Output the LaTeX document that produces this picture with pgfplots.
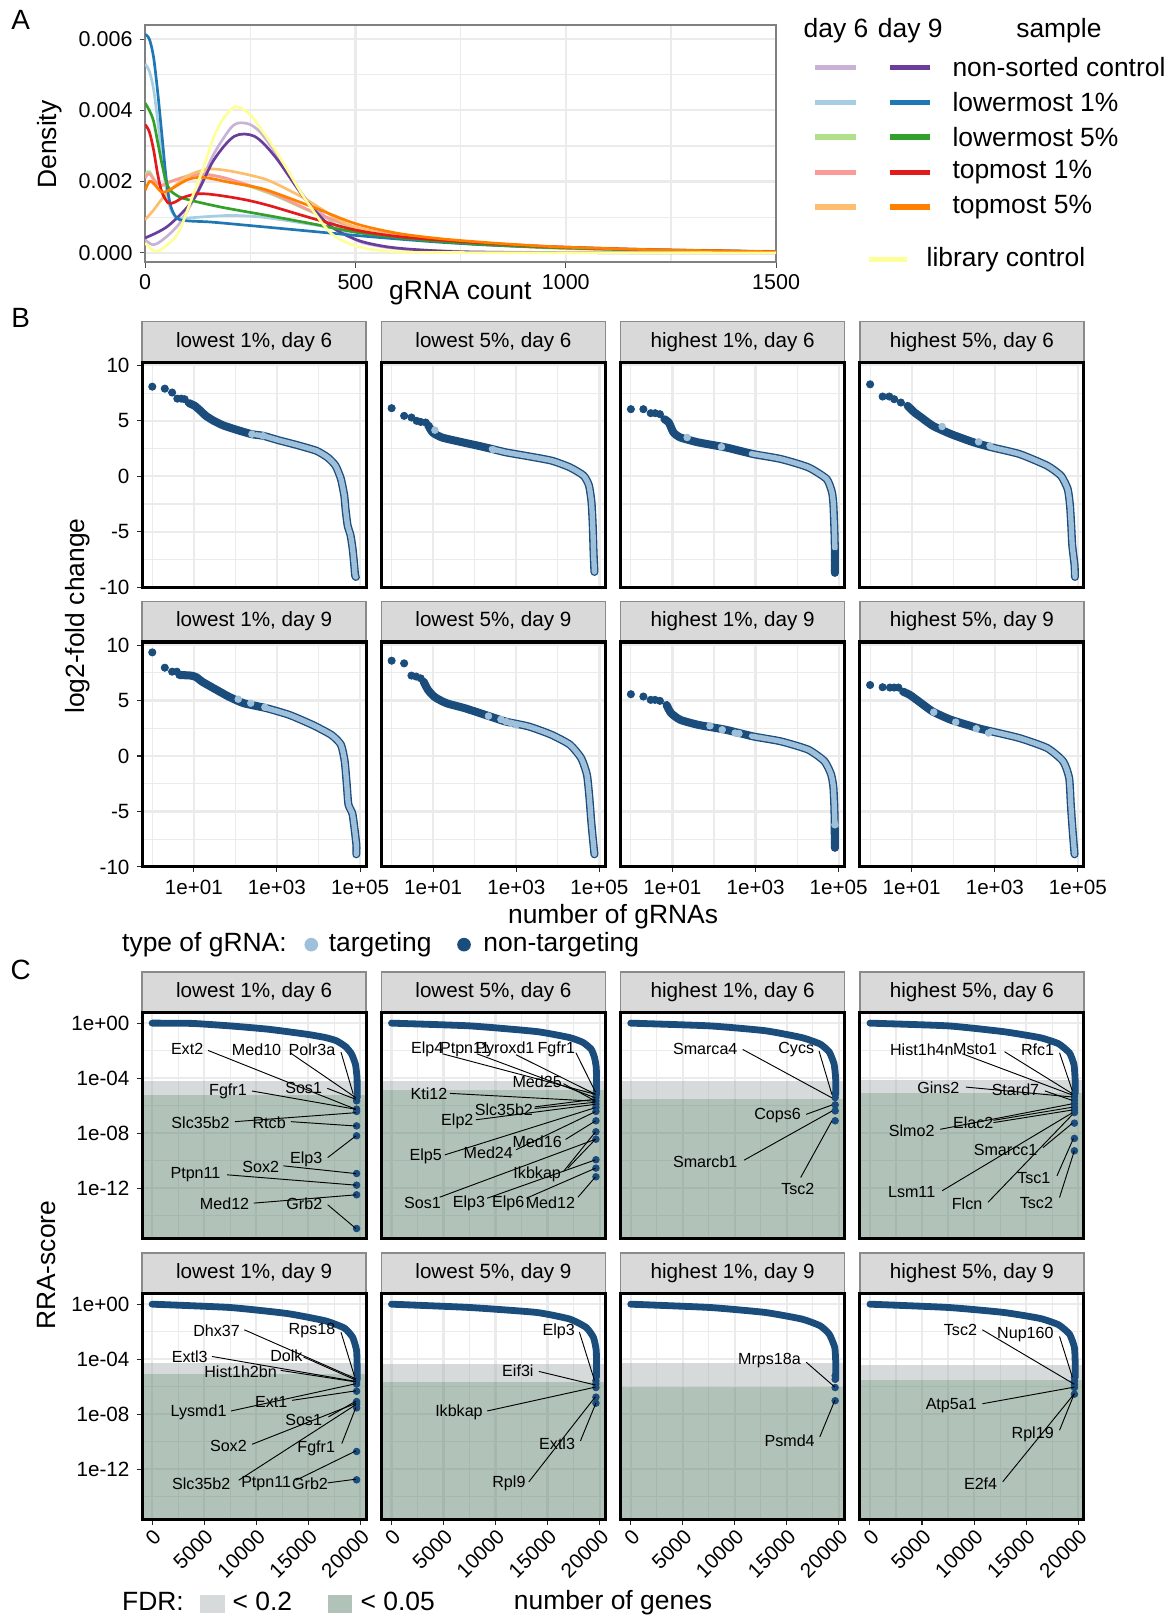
\documentclass[border=0pt]{standalone}
\usepackage{fontspec}
\setmainfont{Liberation Sans}
\usepackage{pgfplots}
\pgfplotsset{compat=1.18}
\pgfkeys{/pgf/number format/assume math mode=true}
\definecolor{dkb}{HTML}{1A4C7C}
\definecolor{ltb}{HTML}{9FC0DA}
\definecolor{gridc}{HTML}{EBEBEB}
\definecolor{stripc}{HTML}{D9D9D9}
\definecolor{stripline}{HTML}{8A8A8A}
\definecolor{fdrgray}{HTML}{ADB5B7}
\definecolor{fdrgreen}{HTML}{638571}
\definecolor{fdrgraysolid}{HTML}{D6DADB}
\definecolor{fdrgreensolid}{HTML}{B1C2B8}
\definecolor{cLP}{HTML}{CAB2D6}\definecolor{cDP}{HTML}{6A3D9A}
\definecolor{cLB}{HTML}{A6CEE3}\definecolor{cDB}{HTML}{1F78B4}
\definecolor{cLG}{HTML}{B2DF8A}\definecolor{cDG}{HTML}{33A02C}
\definecolor{cLR}{HTML}{FB9A99}\definecolor{cDR}{HTML}{E31A1C}
\definecolor{cLO}{HTML}{FDBF6F}\definecolor{cDO}{HTML}{FF7F00}
\definecolor{cY}{HTML}{FFFF99}
\newcommand\labf{\fontsize{7.8}{9}\selectfont}
\newcommand\bigf{\fontsize{12.8}{15}\selectfont}
\newcommand\tck{\fontsize{10}{12}\selectfont}
\newcommand\GL[3]{\node[font=\labf, inner sep=0pt] at (#1,#2) {#3};}
\newcommand\LL[4]{\draw[line width=0.45pt] (#1,#2) -- (#3,#4);}
\pgfplotsset{
 myfacet/.style={scale only axis, width=108.5pt, anchor=north west, clip mode=individual,
   axis line style={line width=1.5pt, black}, tick align=outside, major tick length=2.6pt,
   minor tick length=0pt, tick style={line width=0.5pt, color=black!85}, tick pos=left,
   grid=both, major grid style={color=gridc, line width=1.1pt}, minor grid style={color=gridc, line width=0.55pt},
   tick label style={font=\tck}},
 myBax/.style={myfacet, height=109pt, xmin=0.569, xmax=139600, ymin=-10, ymax=10.28,
   xtick={10,1000,100000}, xticklabels={1e+01,1e+03,1e+05}, minor xtick={1,100,10000},
   ytick={-10,-5,0,5,10}, minor ytick={-7.5,-2.5,2.5,7.5}},
 myCax/.style={myfacet, height=109.25pt, xmin=-960, xmax=20550, ymin=2.24e-16, ymax=5.56,
   xtick={0,5000,10000,15000,20000}, xticklabels={0,5000,10000,15000,20000}, minor xtick={2500,7500,12500,17500},
   ytick={1,1e-4,1e-8,1e-12}, yticklabels={1e+00,1e-04,1e-08,1e-12}, minor ytick={1e-2,1e-6,1e-10,1e-14},
   xticklabel style={rotate=45, anchor=north east, inner sep=1pt}, scaled x ticks=false},
 noxl/.style={xticklabels={}, xtick style={draw=none}},
 noyl/.style={yticklabels={}, ytick style={draw=none}},
 myBdark/.style={color=dkb, line width=3.9pt, line cap=round, line join=round, smooth, tension=0.35, no marks},
 myBlight/.style={color=ltb, line width=2.6pt, line cap=round, line join=round, smooth, tension=0.35, no marks},
 myDots/.style={only marks, mark=*, mark size=1.75pt, mark options={draw=dkb, fill=dkb}},
 myLdots/.style={only marks, mark=*, mark size=1.6pt, mark options={draw=ltb, fill=ltb}},
 myCcurve/.style={color=dkb, line width=3.3pt, line cap=round, line join=round, smooth, tension=0.3, no marks},
 myCdots/.style={only marks, mark=*, mark size=1.6pt, mark options={draw=dkb, fill=dkb}},
 myDen/.style={line width=1.3pt, smooth, tension=0.5, no marks},
}
\newcommand\frm{\draw[line width=1.5pt] (rel axis cs:0,0) rectangle (rel axis cs:1,1);}
\begin{document}
\begin{tikzpicture}
\begin{scope}[x=0.5pt,y=-0.5pt]
\path[use as bounding box] (0,0) rectangle (1138,1568);
\foreach \L in {137.7,369.6,601.4,833.2}{
 \foreach \T/\B in {311.5/351, 582.5/622, 941.7/981.4, 1214/1253.7}{
  \draw[fill=stripc, draw=stripline, line width=0.6pt] (\L,\T) rectangle ({\L+217},\B);
 }}
\end{scope}

% ---------------- Panel A ----------------
\begin{axis}[scale only axis, width=305.7pt, height=115pt, at={(70.3pt,-12pt)}, anchor=north west,
  xmin=0, xmax=1500, ymin=-0.00026, ymax=0.0064, scaled y ticks=false, scaled x ticks=false,
  xtick={0,500,1000,1500}, xticklabels={0,500,1000,1500}, minor xtick={250,750,1250},
  ytick={0,0.002,0.004,0.006}, yticklabels={0.000,0.002,0.004,0.006}, minor ytick={0.001,0.003,0.005},
  grid=both, major grid style={color=gridc, line width=1.1pt}, minor grid style={color=gridc, line width=0.55pt},
  axis line style={line width=0.8pt, color=black!50}, tick align=outside, tick pos=left,
  major tick length=2.6pt, minor tick length=0pt, tick style={line width=0.5pt, color=black!70},
  tick label style={font=\fontsize{10.4}{12}\selectfont}]
\addplot[myDen, cLP] coordinates {(0,0.00037)(18,0.00023)(40,0.00035)(80,0.00080)(120,0.00160)(160,0.00270)(200,0.00345)(220,0.00364)(250,0.00360)(280,0.00330)(333,0.00240)(380,0.00155)(430,0.00100)(500,0.00037)(560,0.00018)(623,0.00010)(700,0.00006)(800,0.00003)(1000,0.00001)(1500,0)};
\addplot[myDen, cLB] coordinates {(0,0.0053)(10,0.0051)(20,0.0046)(30,0.0037)(40,0.0027)(50,0.0018)(60,0.00125)(75,0.00100)(100,0.00098)(150,0.00102)(200,0.00105)(250,0.00103)(300,0.00097)(400,0.00079)(500,0.00059)(600,0.00044)(700,0.00034)(800,0.00026)(900,0.00020)(1000,0.00016)(1200,0.00010)(1500,0.00004)};
\addplot[myDen, cLG] coordinates {(0,0.0022)(10,0.00228)(25,0.0020)(40,0.00188)(60,0.0020)(100,0.00216)(130,0.00222)(160,0.00218)(200,0.00205)(300,0.00165)(400,0.00113)(500,0.00070)(600,0.00048)(700,0.00034)(800,0.00025)(900,0.00019)(1000,0.00014)(1200,0.00008)(1500,0.00003)};
\addplot[myDen, cLR] coordinates {(0,0.0021)(10,0.00222)(25,0.00198)(40,0.00190)(60,0.00200)(100,0.00214)(130,0.00220)(160,0.00217)(200,0.00207)(300,0.00168)(400,0.00115)(500,0.00072)(600,0.00049)(700,0.00035)(800,0.00026)(900,0.00019)(1000,0.00014)(1200,0.00008)(1500,0.00003)};
\addplot[myDen, cLO] coordinates {(0,0.00093)(20,0.00120)(50,0.00165)(100,0.00215)(150,0.00235)(200,0.00230)(260,0.00215)(300,0.00200)(380,0.00152)(450,0.00100)(500,0.00072)(600,0.00046)(700,0.00032)(800,0.00023)(900,0.00017)(1000,0.00012)(1200,0.00007)(1500,0.00002)};
\addplot[myDen, cDP] coordinates {(0,0.00042)(54,0.00075)(115,0.00150)(163,0.00260)(212,0.00327)(260,0.00327)(309,0.00270)(381,0.00150)(441,0.00075)(502,0.00037)(560,0.00020)(623,0.00011)(744,0.00003)(900,0.00001)(1500,0)};
\addplot[myDen, cDB] coordinates {(0,0.00613)(10,0.0060)(20,0.0055)(30,0.0045)(40,0.0033)(50,0.0021)(60,0.00135)(75,0.00098)(100,0.00090)(150,0.00087)(200,0.00082)(300,0.00071)(400,0.00060)(500,0.00049)(600,0.00039)(700,0.00030)(800,0.00023)(900,0.00018)(1000,0.00014)(1200,0.00008)(1500,0.00003)};
\addplot[myDen, cDG] coordinates {(0,0.0042)(10,0.0040)(20,0.0037)(30,0.0031)(40,0.0025)(50,0.0020)(60,0.00175)(80,0.00158)(100,0.00150)(150,0.00136)(200,0.00124)(300,0.00103)(400,0.00081)(500,0.00058)(600,0.00043)(700,0.00032)(800,0.00024)(900,0.00018)(1000,0.00014)(1200,0.00008)(1500,0.00003)};
\addplot[myDen, cDR] coordinates {(0,0.0036)(10,0.0034)(20,0.0029)(30,0.0022)(40,0.00170)(55,0.00140)(70,0.00142)(90,0.00155)(120,0.00165)(150,0.00165)(200,0.00157)(250,0.00146)(300,0.00131)(400,0.00096)(500,0.00064)(600,0.00046)(700,0.00036)(800,0.00028)(900,0.00021)(1000,0.00016)(1200,0.00009)(1500,0.00003)};
\addplot[myDen, cDO] coordinates {(0,0.00175)(10,0.0020)(20,0.00195)(40,0.00170)(60,0.00178)(100,0.00205)(130,0.00212)(160,0.00208)(200,0.00198)(260,0.00185)(300,0.00172)(400,0.00128)(500,0.00082)(600,0.00055)(700,0.00040)(800,0.00030)(900,0.00022)(1000,0.00016)(1200,0.00009)(1500,0.00003)};
\addplot[myDen, cY] coordinates {(0,0.00028)(15,0.00010)(30,0.00005)(50,0.00020)(79,0.00056)(110,0.00150)(139,0.0024)(165,0.0033)(188,0.0038)(215,0.0041)(248,0.0039)(280,0.0034)(309,0.0029)(345,0.0022)(381,0.0015)(441,0.00056)(502,0.00019)(575,0.00005)(700,0.00001)(1500,0)};
\end{axis}

% ---------------- Panel B ----------------
\begin{axis}[xmode=log, myBax, noxl, at={(68.85pt,-175.5pt)}]
\addplot[myBdark] coordinates {(7.6,6.6)(10.5,6.35)(14.5,5.9)(19.5,5.45)(30.2,5.0)(50.1,4.6)(107,4.19)(245,3.8)(468,3.65)(1072,3.26)(3090,2.81)(8913,2.3)(16600,1.7)(25700,0.96)(34670,-0.24)(41690,-1.74)(44670,-2.93)(50120,-4.43)(58880,-5.3)(66070,-6.5)(72440,-8.0)(75860,-8.9)(79430,-9.07)};
\addplot[myBlight] coordinates {(316,3.74)(468,3.65)(1072,3.26)(3090,2.81)(8913,2.3)(16600,1.7)(25700,0.96)(34670,-0.24)(41690,-1.74)(44670,-2.93)(50120,-4.43)(58880,-5.3)(66070,-6.5)(72440,-8.0)(75860,-8.9)(79430,-9.07)};
\addplot[myDots] coordinates {(1,8.08)(2,7.9)(3,7.55)(4,7.0)(5,7.0)(6,6.95)};
\addplot[myLdots] coordinates {(250,3.8)(468,3.65)};
\frm
\end{axis}
\begin{axis}[xmode=log, myBax, noxl, noyl, at={(184.8pt,-175.5pt)}]
\addplot[myBdark] coordinates {(7.6,4.6)(9.7,3.95)(16.2,3.5)(44.7,3.11)(123,2.75)(263,2.46)(562,2.16)(2000,1.8)(7080,1.41)(19500,0.81)(41700,0.06)(56200,-0.84)(64600,-2.34)(69200,-4.43)(72400,-6.83)(75900,-8.62)};
\addplot[myBlight] coordinates {(251,2.48)(562,2.16)(2000,1.8)(7080,1.41)(19500,0.81)(41700,0.06)(56200,-0.84)(64600,-2.34)(69200,-4.43)(72400,-6.83)(75900,-8.62)};
\addplot[myDots] coordinates {(1,6.14)(2,5.45)(3,5.3)(4,5.0)(5,4.9)(6.6,4.85)};
\addplot[myLdots] coordinates {(11,4.16)(275,2.4)};
\frm
\end{axis}
\begin{axis}[xmode=log, myBax, noxl, noyl, at={(300.7pt,-175.5pt)}]
\addplot[myBdark] coordinates {(6.4,5.15)(8.2,4.85)(10.6,3.95)(15.5,3.5)(42.7,3.05)(195,2.6)(891,2.0)(4070,1.56)(18600,0.81)(51300,-0.24)(69200,-1.44)(75000,-2.63)(79400,-5.03)(81300,-6.83)(81300,-8.62)};
\addplot[myBlight] coordinates {(794,2.03)(891,2.0)(4070,1.56)(18600,0.81)(51300,-0.24)(69200,-1.44)(75000,-2.63)(79400,-5.03)(81300,-6.5)};
\addplot[myDots] coordinates {(1,6.05)(2,6.05)(3,5.69)(3.85,5.69)(5,5.6)(81300,-7.0)(81300,-7.6)(81300,-8.1)(81300,-8.5)(81300,-8.7)};
\addplot[myLdots] coordinates {(22.6,3.5)(151,2.66)};
\frm
\end{axis}
\begin{axis}[xmode=log, myBax, noxl, noyl, at={(416.6pt,-175.5pt)}]
\addplot[myBdark] coordinates {(8.0,6.35)(11.7,5.75)(15.1,5.45)(32.4,4.55)(89,3.8)(316,3.05)(871,2.6)(3980,2.0)(18200,0.96)(38900,0.06)(56900,-1.14)(64600,-2.63)(69200,-4.43)(73300,-6.23)(83200,-8.02)(85100,-9.07)};
\addplot[myBlight] coordinates {(794,2.65)(871,2.6)(3980,2.0)(18200,0.96)(38900,0.06)(56900,-1.14)(64600,-2.63)(69200,-4.43)(73300,-6.23)(83200,-8.02)(85100,-9.07)};
\addplot[myDots] coordinates {(1,8.29)(2,7.19)(2.9,7.19)(3.8,6.95)(5.5,6.65)};
\addplot[myLdots] coordinates {(54,4.49)(407,3.11)(767,2.75)};
\frm
\end{axis}
% row 2
\begin{axis}[xmode=log, myBax, at={(68.85pt,-311pt)}]
\addplot[myBdark] coordinates {(4.5,7.3)(8.5,7.25)(11.5,7.1)(15.8,6.7)(30.2,6.1)(69.2,5.35)(158,4.76)(575,4.3)(2000,3.7)(7240,2.8)(20400,1.9)(34700,1.02)(42700,-0.48)(47900,-2.57)(52500,-4.37)(66100,-5.27)(81300,-7.96)(81300,-8.86)};
\addplot[myBlight] coordinates {(500,4.35)(575,4.3)(2000,3.7)(7240,2.8)(20400,1.9)(34700,1.02)(42700,-0.48)(47900,-2.57)(52500,-4.37)(66100,-5.27)(81300,-7.96)(81300,-8.86)};
\addplot[myDots] coordinates {(1,9.34)(2,7.96)(3,7.6)(3.9,7.6)};
\addplot[myLdots] coordinates {(117,5.12)(234,4.76)(513,4.4)};
\frm
\end{axis}
\begin{axis}[xmode=log, myBax, noyl, at={(184.8pt,-311pt)}]
\addplot[myBdark] coordinates {(5.9,6.7)(7.5,5.96)(11,5.3)(20.9,4.76)(57.5,4.31)(200,3.65)(562,3.1)(2000,2.66)(7080,1.91)(19500,1.02)(36300,-0.18)(50100,-1.68)(57500,-3.77)(64600,-6.17)(75900,-8.86)};
\addplot[myBlight] coordinates {(500,3.15)(562,3.1)(2000,2.66)(7080,1.91)(19500,1.02)(36300,-0.18)(50100,-1.68)(57500,-3.77)(64600,-6.17)(75900,-8.86)};
\addplot[myDots] coordinates {(1,8.59)(2,8.35)(3,7.25)(3.9,7.16)(5,7.0)};
\addplot[myLdots] coordinates {(214,3.6)(427,3.3)(575,3.1)(750,2.95)(1000,2.8)};
\frm
\end{axis}
\begin{axis}[xmode=log, myBax, noyl, at={(300.7pt,-311pt)}]
\addplot[myBdark] coordinates {(7.2,4.6)(9.3,3.86)(15.5,3.26)(42.7,2.8)(195,2.36)(891,1.76)(4070,1.32)(18600,0.57)(45700,-0.48)(66100,-1.68)(75000,-2.87)(79400,-4.97)(81300,-8.26)};
\addplot[myBlight] coordinates {(794,1.8)(891,1.76)(4070,1.32)(18600,0.57)(45700,-0.48)(66100,-1.68)(75000,-2.87)(79400,-4.97)(81300,-6.0)};
\addplot[myDots] coordinates {(1,5.57)(2,5.36)(3,5.06)(3.8,5.06)(5,4.97)(81300,-6.6)(81300,-7.0)(81300,-7.4)(81300,-7.8)(81300,-8.1)(81300,-8.26)};
\addplot[myLdots] coordinates {(80,2.72)(158,2.37)(324,2.07)(400,2.03)(81300,-6.2)};
\frm
\end{axis}
\begin{axis}[xmode=log, myBax, noyl, at={(416.6pt,-311pt)}]
\addplot[myBdark] coordinates {(6.2,5.8)(9.1,5.5)(15.1,4.9)(32.4,4.0)(89,3.26)(407,2.5)(871,2.2)(3980,1.61)(18200,0.72)(44200,-0.48)(61700,-1.98)(67600,-4.37)(75000,-6.77)(83200,-8.86)};
\addplot[myBlight] coordinates {(794,2.25)(871,2.2)(3980,1.61)(18200,0.72)(44200,-0.48)(61700,-1.98)(67600,-4.37)(75000,-6.77)(83200,-8.86)};
\addplot[myDots] coordinates {(1,6.4)(2,6.2)(3,6.17)(3.8,6.17)(4.8,6.17)};
\addplot[myLdots] coordinates {(34,3.95)(115,3.05)(359,2.46)(708,2.07)};
\frm
\end{axis}

% ---------------- Panel C ----------------
\begin{axis}[ymode=log, myCax, noxl, at={(68.85pt,-490.7pt)}]
\fill[fdrgray, fill opacity=0.5] (axis cs:-960,5.89e-6) rectangle (axis cs:20550,6.46e-5);
\fill[fdrgreen, fill opacity=0.5] (axis cs:-960,2.24e-16) rectangle (axis cs:20550,5.89e-6);
\addplot[myCcurve] coordinates {(0,1)(3830,0.955)(7480,0.631)(11130,0.363)(14780,0.158)(16600,0.0912)(17700,0.0525)(18600,0.0191)(19160,0.00562)(19530,0.001)(19680,1.12e-4)(19700,1.26e-5)(19700,3.9e-6)};
\addplot[myCdots] coordinates {(19640,3.89e-6)(19640,2.24e-6)(19640,5.62e-7)(19640,3.80e-7)(19640,3.39e-8)(19640,6.46e-9)(19640,1.17e-11)(19640,1.66e-12)(19640,3.31e-13)(19640,1.17e-15)};
\frm
\end{axis}
\begin{axis}[ymode=log, myCax, noxl, noyl, at={(184.8pt,-490.7pt)}]
\fill[fdrgray, fill opacity=0.5] (axis cs:-960,1.35e-5) rectangle (axis cs:20550,6.46e-5);
\fill[fdrgreen, fill opacity=0.5] (axis cs:-960,2.24e-16) rectangle (axis cs:20550,1.35e-5);
\addplot[myCcurve] coordinates {(0,1)(7530,0.631)(13920,0.245)(17110,0.0891)(18390,0.0398)(19190,0.0126)(19510,0.00302)(19670,0.000575)(19700,3.55e-5)(19700,6.3e-6)};
\addplot[myCdots] coordinates {(19640,6.92e-6)(19640,3.89e-6)(19640,2.24e-6)(19640,1.29e-6)(19640,7.41e-7)(19640,3.80e-7)(19640,7.94e-8)(19640,1.26e-8)(19640,3.63e-9)(19640,1.17e-10)(19640,2.88e-11)(19640,6.76e-12)};
\frm
\end{axis}
\begin{axis}[ymode=log, myCax, noxl, noyl, at={(300.7pt,-490.7pt)}]
\fill[fdrgray, fill opacity=0.5] (axis cs:-960,3.02e-6) rectangle (axis cs:20550,5.89e-5);
\fill[fdrgreen, fill opacity=0.5] (axis cs:-960,2.24e-16) rectangle (axis cs:20550,3.02e-6);
\addplot[myCcurve] coordinates {(0,1)(7600,0.631)(12900,0.282)(16425,0.0891)(18190,0.0302)(19070,0.00794)(19530,0.0011)(19680,1.15e-4)(19700,6.9e-6)};
\addplot[myCdots] coordinates {(19640,6.92e-6)(19640,3.89e-6)(19640,1.15e-6)(19640,4.17e-7)(19640,7.94e-8)};
\frm
\end{axis}
\begin{axis}[ymode=log, myCax, noxl, noyl, at={(416.6pt,-490.7pt)}]
\fill[fdrgray, fill opacity=0.5] (axis cs:-960,7.76e-6) rectangle (axis cs:20550,7.08e-5);
\fill[fdrgreen, fill opacity=0.5] (axis cs:-960,2.24e-16) rectangle (axis cs:20550,7.76e-6);
\addplot[myCcurve] coordinates {(0,1)(7540,0.631)(12830,0.240)(16360,0.0871)(18120,0.0316)(19170,0.00676)(19600,0.000955)(19720,5.75e-5)(19720,7.9e-6)};
\addplot[myCdots] coordinates {(19640,7.94e-6)(19640,4.47e-6)(19640,2.51e-6)(19640,1.41e-6)(19640,7.94e-7)(19640,5.01e-7)(19640,3.16e-7)(19640,5.37e-8)(19640,4.17e-9)(19640,5.25e-10)};
\frm
\end{axis}
% row 2
\begin{axis}[ymode=log, myCax, at={(68.85pt,-626.85pt)}]
\fill[fdrgray, fill opacity=0.5] (axis cs:-960,8.32e-6) rectangle (axis cs:20550,5.75e-5);
\fill[fdrgreen, fill opacity=0.5] (axis cs:-960,2.24e-16) rectangle (axis cs:20550,8.32e-6);
\addplot[myCcurve] coordinates {(0,1)(7465,0.575)(12970,0.209)(16630,0.0617)(18470,0.0182)(19270,0.0038)(19640,0.000407)(19700,1.41e-5)(19700,3.5e-6)};
\addplot[myCdots] coordinates {(19640,3.55e-6)(19640,2.51e-6)(19640,1.55e-6)(19640,4.68e-7)(19640,8.32e-8)(19640,5.62e-8)(19640,2.88e-8)(19640,1.95e-11)(19640,1.70e-13)};
\frm
\end{axis}
\begin{axis}[ymode=log, myCax, noyl, at={(184.8pt,-626.85pt)}]
\fill[fdrgray, fill opacity=0.5] (axis cs:-960,2.04e-6) rectangle (axis cs:20550,4.37e-5);
\fill[fdrgreen, fill opacity=0.5] (axis cs:-960,2.24e-16) rectangle (axis cs:20550,2.04e-6);
\addplot[myCcurve] coordinates {(0,1)(7500,0.575)(13920,0.251)(17110,0.0832)(18700,0.0204)(19400,0.0038)(19670,0.000407)(19700,5.0e-6)};
\addplot[myCdots] coordinates {(19640,2.69e-6)(19640,1.58e-6)(19640,8.71e-7)(19640,1.74e-7)(19640,6.31e-8)};
\frm
\end{axis}
\begin{axis}[ymode=log, myCax, noyl, at={(300.7pt,-626.85pt)}]
\fill[fdrgray, fill opacity=0.5] (axis cs:-960,8.91e-7) rectangle (axis cs:20550,4.90e-5);
\fill[fdrgreen, fill opacity=0.5] (axis cs:-960,2.24e-16) rectangle (axis cs:20550,8.91e-7);
\addplot[myCcurve] coordinates {(0,1)(7600,0.575)(12900,0.251)(16425,0.0832)(18190,0.0269)(19070,0.00661)(19600,0.000708)(19700,4.37e-5)(19700,3.55e-6)};
\addplot[myCdots] coordinates {(19640,6.17e-6)(19640,3.47e-6)(19640,8.71e-7)(19640,9.55e-8)};
\frm
\end{axis}
\begin{axis}[ymode=log, myCax, noyl, at={(416.6pt,-626.85pt)}]
\fill[fdrgray, fill opacity=0.5] (axis cs:-960,3.02e-6) rectangle (axis cs:20550,3.89e-5);
\fill[fdrgreen, fill opacity=0.5] (axis cs:-960,2.24e-16) rectangle (axis cs:20550,3.02e-6);
\addplot[myCcurve] coordinates {(0,1)(7540,0.575)(12830,0.251)(16360,0.0912)(18120,0.0316)(19170,0.00661)(19640,0.000708)(19720,4.37e-5)(19720,4.68e-6)};
\addplot[myCdots] coordinates {(19640,4.68e-6)(19640,2.51e-6)(19640,1.41e-6)(19640,8.71e-7)(19640,2.88e-7)};
\frm
\end{axis}

% ---------------- annotations ----------------
\begin{scope}[x=0.5pt,y=-0.5pt]
\node[font=\fontsize{13.5}{15}\selectfont] at (20,19) {A};
\node[font=\fontsize{13.5}{15}\selectfont] at (20,308) {B};
\node[font=\fontsize{13.5}{15}\selectfont] at (20,940) {C};
\node[font=\bigf, rotate=90] at (48,140) {Density};
\node[font=\bigf] at (446,284) {gRNA count};
\node[font=\bigf] at (810,30) {day 6};
\node[font=\bigf] at (882,30) {day 9};
\node[font=\bigf] at (1026,30) {sample};
\foreach \y/\a/\b/\t in {65.4/cLP/cDP/non-sorted control, 99.3/cLB/cDB/lowermost 1\%, 132.8/cLG/cDG/lowermost 5\%, 167/cLR/cDR/topmost 1\%, 200.5/cLO/cDO/topmost 5\%}{
  \draw[\a, line width=2.6pt] (790,\y) -- (829,\y);
  \draw[\b, line width=2.6pt] (862,\y) -- (901.5,\y);
  \node[font=\bigf, anchor=west, inner sep=0pt] at (922.5,\y) {\t};
}
\draw[cY, line width=2.6pt] (842,251.4) -- (879,251.4);
\node[font=\bigf, anchor=west, inner sep=0pt] at (897.5,251.4) {library control};
\foreach \cx/\a in {246.2/lowest 1, 478.1/lowest 5, 709.9/highest 1, 941.7/highest 5}{
  \node[font=\tck] at (\cx,331.2) {\a\%, day 6};
  \node[font=\tck] at (\cx,602.2) {\a\%, day 9};
  \node[font=\tck] at (\cx,961.5) {\a\%, day 6};
  \node[font=\tck] at (\cx,1233.8) {\a\%, day 9};
}
\node[font=\bigf, rotate=90] at (75,597) {log2-fold change};
\node[font=\bigf] at (594,888) {number of gRNAs};
\node[font=\bigf, anchor=west, inner sep=0pt] at (118,915) {type of gRNA:};
\fill[ltb] (301.6,915.3) circle (3.3pt);
\node[font=\bigf, anchor=west, inner sep=0pt] at (318.2,915) {targeting};
\fill[dkb] (449.6,915.3) circle (3.3pt);
\node[font=\bigf, anchor=west, inner sep=0pt] at (468,915) {non-targeting};
\node[font=\bigf, rotate=90] at (45,1226) {RRA-score};
\node[font=\bigf] at (594,1553) {number of genes};
\node[font=\bigf, anchor=west, inner sep=0pt] at (118,1552) {FDR:};
\fill[fdrgraysolid] (194,1545) rectangle (218,1563);
\node[font=\bigf, anchor=west, inner sep=0pt] at (225,1552) {< 0.2};
\fill[fdrgreensolid] (317.5,1545) rectangle (341,1563);
\node[font=\bigf, anchor=west, inner sep=0pt] at (349,1552) {< 0.05};
% C r1c1
\GL{181.3}{1016.8}{Ext2}\LL{201.6}{1017.8}{344.8}{1074.8}
\GL{248.6}{1016.8}{Med10}\LL{281.2}{1020.1}{344.8}{1063.6}
\GL{302.3}{1016.8}{Polr3a}\LL{330.4}{1019.4}{342.3}{1060.3}
\GL{220.9}{1057.1}{Fgfr1}\LL{244.2}{1057.1}{344.8}{1074.8}
\GL{294.2}{1053.9}{Sos1}\LL{317.1}{1054.5}{344.8}{1065.2}
\GL{194.3}{1087.8}{Slc35b2}\LL{227.5}{1086.8}{344.8}{1078.1}
\GL{260.8}{1087.8}{Rtcb}\LL{281.9}{1086.8}{344.8}{1091}
\GL{296.7}{1123.3}{Elp3}\LL{317.5}{1121.6}{344.8}{1100.6}
\GL{252.7}{1130.8}{Sox2}\LL{274.5}{1129.6}{344.8}{1137.1}
\GL{189.4}{1138.5}{Ptpn11}\LL{220.1}{1138.3}{344.8}{1148.3}
\GL{217.6}{1166}{Med12}\LL{246}{1165.7}{344.8}{1157.7}
\GL{294.9}{1166}{Grb2}\LL{317.5}{1167.3}{344.8}{1190.3}
% C r1c2
\node[font=\labf, anchor=west, inner sep=0pt] at (398,1016.8) {Elp4};
\node[font=\labf, anchor=west, inner sep=0pt] at (426,1016.8) {Ptpn11};
\node[font=\labf, anchor=west, inner sep=0pt] at (460.2,1016.8) {Pyroxd1};
\node[font=\labf, anchor=west, inner sep=0pt] at (520.5,1016.8) {Fgfr1};
\LL{428.6}{1021}{576.9}{1060.3}\LL{462}{1021}{576.9}{1063.7}\LL{500}{1022}{576.9}{1060.3}\LL{558}{1020}{576.9}{1058}
\GL{520.5}{1048.1}{Med25}\LL{546}{1050}{576.9}{1066.8}
\GL{415.7}{1059.4}{Kti12}\LL{436}{1059.4}{576.9}{1067}
\GL{488.2}{1074.9}{Slc35b2}\LL{518}{1074}{576.9}{1068}\LL{518}{1072.5}{576.9}{1065}
\GL{443.1}{1086.8}{Elp2}\LL{461}{1085}{576.9}{1070}
\GL{412.5}{1120.6}{Elp5}\LL{431}{1119}{576.9}{1073.2}
\GL{473.1}{1116.7}{Med24}\LL{500}{1114}{576.9}{1077.1}
\GL{520.5}{1106.4}{Med16}\LL{548}{1104}{576.9}{1086.1}
\GL{520.5}{1138.3}{Ikbkap}\LL{546}{1135}{576.9}{1096.8}\LL{550}{1132}{576.9}{1103.9}
\GL{409.3}{1165.7}{Sos1}\GL{454.4}{1165.7}{Elp3}\GL{492.4}{1165.7}{Elp6}\GL{533.3}{1165.7}{Med12}
\LL{426}{1160}{576.9}{1103.9}\LL{472}{1161}{576.9}{1123.8}\LL{510}{1161}{576.9}{1131.9}\LL{560}{1160}{576.9}{1140.3}
% C r1c3
\GL{683.3}{1016.8}{Smarca4}\LL{719.6}{1016.8}{806}{1063.7}
\GL{771.5}{1016.8}{Cycs}\LL{793.6}{1018.4}{806}{1060.3}
\GL{753.4}{1081.3}{Cops6}\LL{781.1}{1079.7}{806}{1070.7}
\GL{683.3}{1125.4}{Smarcb1}\LL{721}{1124.1}{806}{1076.6}
\GL{773}{1152.2}{Tsc2}\LL{775.8}{1140.9}{806}{1086.1}
% C r1c4
\GL{893.2}{1016.8}{Hist1h4n}\GL{944.8}{1016.8}{Msto1}\GL{1005.3}{1016.8}{Rfc1}
\LL{932.3}{1021}{1039}{1061}\LL{973.3}{1019}{1039}{1059.7}\LL{1026.6}{1020}{1039}{1057}
\GL{909.2}{1053.9}{Gins2}\LL{935.9}{1053.3}{1039}{1062.9}
\GL{983.9}{1055.5}{Stard7}\LL{1012.4}{1057}{1039}{1066.2}
\GL{883.3}{1095.2}{Slmo2}\LL{911}{1094.2}{1039}{1069.5}
\GL{943}{1087.7}{Elac2}\LL{962.6}{1085.5}{1039}{1072.8}\LL{962.6}{1087.7}{1039}{1075.5}
\GL{974.3}{1114.5}{Smarcc1}\LL{1010.6}{1111.9}{1039}{1088.4}
\GL{883.3}{1155.4}{Lsm11}\LL{912.8}{1153.8}{1039}{1078.2}
\GL{937}{1166}{Flcn}\LL{957.2}{1165}{1039}{1080}
\GL{1001.7}{1141.6}{Tsc1}\LL{1024.1}{1139.3}{1040}{1103.2}
\GL{1004.2}{1166}{Tsc2}\LL{1026.6}{1160.3}{1040.9}{1115.1}
% C r2c1
\GL{209.8}{1289.1}{Dhx37}\LL{236.8}{1288.5}{344.8}{1335.9}
\GL{302.3}{1289.1}{Rps18}\LL{330.4}{1290.8}{343.5}{1333.6}
\GL{183.9}{1315}{Extl3}\LL{205.4}{1314.3}{344.8}{1338.5}
\GL{277.5}{1313.3}{Dolk}\LL{294.2}{1314.9}{344.8}{1337.2}
\GL{233.1}{1329.4}{Hist1h2bn}\LL{272}{1327.8}{344.8}{1339}
\GL{262.7}{1358.4}{Ext1}\LL{283}{1356.8}{344.8}{1347.6}
\GL{192.4}{1368.8}{Lysmd1}\LL{223.9}{1367.1}{344.8}{1340.7}
\GL{294.2}{1376.2}{Sos1}\LL{318.2}{1372.9}{344.8}{1357.6}
\GL{221.3}{1401.3}{Sox2}\LL{244.2}{1399.4}{344.8}{1359.8}
\GL{306.4}{1402.9}{Fgfr1}\LL{331.2}{1398.7}{344.8}{1363.7}
\GL{195}{1437.4}{Slc35b2}\LL{231.3}{1434.2}{344.8}{1361}
\GL{257.9}{1437.4}{Ptpn11}\LL{286.8}{1434.2}{344.8}{1405.8}
\GL{300.4}{1437.4}{Grb2}\LL{317.5}{1436.8}{344.8}{1433.2}
% C r2c2
\GL{541.4}{1289.8}{Elp3}\LL{561.4}{1290.8}{576}{1337.5}
\GL{501.8}{1328.5}{Eif3i}\LL{522.1}{1328.8}{576.9}{1342}
\GL{444.7}{1368.8}{Ikbkap}\LL{472.1}{1367.1}{576.9}{1344}
\GL{539.8}{1398.7}{Extl3}\LL{562.4}{1396.1}{577.5}{1359.2}
\GL{493.1}{1437.4}{Rpl9}\LL{512.4}{1435.8}{576.9}{1353.3}
% C r2c3
\GL{745.5}{1318.2}{Mrps18a}\LL{781.1}{1319.8}{808.9}{1344}
\GL{765.1}{1395.5}{Psmd4}\LL{794.3}{1392.3}{808.9}{1356.8}
% C r2c4
\GL{930.6}{1288.5}{Tsc2}\LL{951.9}{1288.5}{1040.9}{1341.2}
\GL{993.5}{1293}{Nup160}\LL{1026.6}{1294.9}{1039}{1334.3}
\GL{921.7}{1361.7}{Atp5a1}\LL{951.9}{1360.1}{1040.9}{1344}
\GL{1000.6}{1390}{Rpl19}\LL{1026.6}{1385.8}{1040.9}{1350.4}
\GL{950.1}{1437.4}{E2f4}\LL{971.5}{1435.8}{1040.9}{1350.4}
\end{scope}
\end{tikzpicture}
\end{document}
